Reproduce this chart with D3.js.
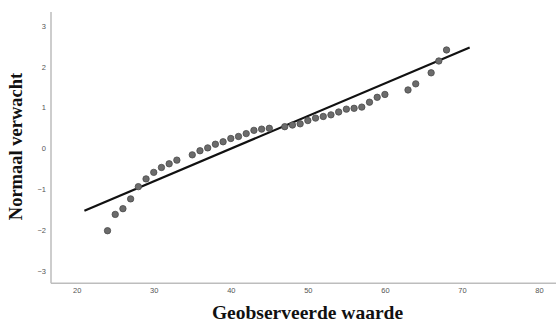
<!DOCTYPE html>
<html><head><meta charset="utf-8">
<script src="https://cdn.jsdelivr.net/npm/d3@7"></script>
<style>html,body{margin:0;padding:0;background:#fff;}</style>
</head><body>
<svg id="c" width="556" height="325"></svg>
<script>
const observed = [24,25,26,27,28,29,30,31,32,33,35,36,37,38,39,40,41,42,43,44,45,47,48,49,50,51,52,53,54,55,56,57,58,59,60,63,64,66,67,68];
const expected = [-2.02,-1.62,-1.48,-1.24,-0.94,-0.75,-0.59,-0.47,-0.38,-0.29,-0.16,-0.06,0.01,0.10,0.16,0.24,0.29,0.36,0.44,0.47,0.49,0.53,0.57,0.60,0.68,0.74,0.78,0.82,0.89,0.96,0.98,1.01,1.13,1.25,1.32,1.43,1.58,1.85,2.14,2.41];
const lineX = [21, 71];
const lineY = [-1.53, 2.47];
const xTicks = [20,30,40,50,60,70,80];
const yTicks = [-3,-2,-1,0,1,2,3];
const xTitle = "Geobserveerde waarde";
const yTitle = "Normaal verwacht";

(function(){
const svg = d3.select("#c");
const x = d3.scaleLinear().domain([20, 80]).range([76.7, 539]);
const y = d3.scaleLinear().domain([0, 1]).range([148.3, 107.5]);
const mLeft = 51, mBottom = 283.3, mTop = 12, mRight = 556;

const tickFont = "Liberation Sans, Arial, sans-serif";
const xAxis = d3.axisBottom(x).tickValues(xTicks).tickSize(0).tickPadding(4).tickFormat(d3.format("d"));
const gx = svg.append("g").attr("transform", `translate(0,${mBottom})`).call(xAxis);
gx.select(".domain").remove();
gx.selectAll("text").attr("font-family", tickFont).attr("font-size", 7.5).attr("fill", "#555");

const yAxis = d3.axisLeft(y).tickValues(yTicks).tickSize(0).tickPadding(5).tickFormat(d3.format("d"));
const gy = svg.append("g").attr("transform", `translate(${mLeft},0)`).call(yAxis);
gy.select(".domain").remove();
gy.selectAll("text").attr("font-family", tickFont).attr("font-size", 7.5).attr("fill", "#555");

svg.append("line").attr("x1", mLeft).attr("x2", mLeft).attr("y1", mTop).attr("y2", mBottom)
  .attr("stroke", "#bdbdbd").attr("stroke-width", 1.5);
svg.append("line").attr("x1", mLeft).attr("x2", mRight).attr("y1", mBottom).attr("y2", mBottom)
  .attr("stroke", "#bdbdbd").attr("stroke-width", 1.5);

svg.append("line")
  .attr("x1", x(lineX[0])).attr("y1", y(lineY[0]))
  .attr("x2", x(lineX[1])).attr("y2", y(lineY[1]))
  .attr("stroke", "#111").attr("stroke-width", 2.2);

svg.append("g").selectAll("circle").data(observed.map((d,i)=>[d, expected[i]])).join("circle")
  .attr("cx", d => x(d[0])).attr("cy", d => y(d[1])).attr("r", 3.2)
  .attr("fill", "#6b6b6b").attr("stroke", "#4a4a4a").attr("stroke-width", 0.8);

svg.append("text").attr("x", 307.5).attr("y", 319).attr("text-anchor", "middle")
  .attr("font-family", "Liberation Serif, Times New Roman, serif").attr("font-weight", "bold")
  .attr("font-size", 19.5).attr("fill", "#111").text(xTitle);
svg.append("text").attr("transform", "translate(22,146.5) rotate(-90)").attr("text-anchor", "middle")
  .attr("font-family", "Liberation Serif, Times New Roman, serif").attr("font-weight", "bold")
  .attr("font-size", 18.5).attr("fill", "#111").text(yTitle);
})();
</script>
</body></html>
